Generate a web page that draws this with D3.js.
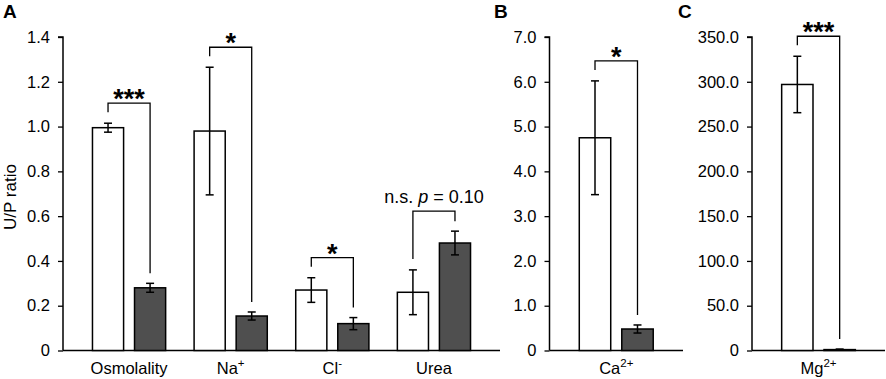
<!DOCTYPE html>
<html>
<head>
<meta charset="utf-8">
<script src="https://cdn.jsdelivr.net/npm/d3@7"></script>
<style>
  body { margin: 0; background: #fff; }
  svg { font-family: "Liberation Sans", Arial, sans-serif; }
</style>
</head>
<body>
<svg id="chart" width="886" height="379"></svg>
<script>
// Panel A: U/P ratios
const labelsA = ["Osmolality", "Na", "Cl", "Urea"];
const supsA = ["", "+", "-", ""];
const ctrlMeanA = [0.995, 0.98, 0.27, 0.26];
const ctrlErrA = [0.02, 0.285, 0.055, 0.1];
const trtMeanA = [0.28, 0.154, 0.12, 0.48];
const trtErrA = [0.02, 0.018, 0.027, 0.053];
const sigA = ["***", "*", "*", "ns"];
const ticksA = [0, 0.2, 0.4, 0.6, 0.8, 1.0, 1.2, 1.4];

// Panel B: Ca2+
const labelsB = ["Ca"];
const supsB = ["2+"];
const ctrlMeanB = [4.75];
const ctrlErrB = [1.27];
const trtMeanB = [0.48];
const trtErrB = [0.09];
const sigB = ["*"];
const ticksB = [0, 1, 2, 3, 4, 5, 6, 7];

// Panel C: Mg2+
const labelsC = ["Mg"];
const supsC = ["2+"];
const ctrlMeanC = [297];
const ctrlErrC = [31.5];
const trtMeanC = [1.0];
const trtErrC = [0.6];
const sigC = ["***"];
const ticksC = [0, 50, 100, 150, 200, 250, 300, 350];

const svg = d3.select("#chart");
const yTop = 37, yBottom = 350.5;

function drawPanel(p) {
    const g = svg.append("g");
    const data = p.labels.map((l, i) => ({
        label: l, sup: p.sups[i],
        vals: [
            { key: "ctrl", mean: p.ctrlMean[i], err: p.ctrlErr[i] },
            { key: "trt", mean: p.trtMean[i], err: p.trtErr[i] }
        ],
        sig: p.sig[i]
    }));

    const x = d3.scaleBand().domain(p.labels).range([p.x0, p.x1])
        .paddingInner(0.28).paddingOuter(0.29);
    const xs = d3.scaleBand().domain(["ctrl", "trt"]).range([0, x.bandwidth()])
        .paddingInner(0.26);
    const y = d3.scaleLinear().domain([0, p.ticks[p.ticks.length - 1]]).range([yBottom, yTop]);

    // y axis
    const ya = g.append("g")
        .attr("transform", `translate(${p.x0},0)`)
        .call(d3.axisLeft(y).tickValues(p.ticks).tickSize(5).tickPadding(8)
            .tickFormat(d => d === 0 ? "0" : d3.format(".1f")(d)));
    ya.select(".domain").attr("stroke-width", 1.5).attr("d", `M-5,${y(p.ticks[p.ticks.length-1])}H0V${yBottom}`);
    ya.selectAll(".tick line").attr("stroke-width", 1.3);
    ya.selectAll(".tick text").attr("font-size", 16.5).attr("font-family", null).attr("fill", "#000");

    // x axis line
    g.append("line").attr("x1", p.x0).attr("x2", p.x1)
        .attr("y1", yBottom).attr("y2", yBottom)
        .attr("stroke", "#000").attr("stroke-width", 1.5);

    const grp = g.selectAll(".grp").data(data).enter().append("g")
        .attr("transform", d => `translate(${x(d.label)},0)`);

    grp.selectAll("rect").data(d => d.vals).enter().append("rect")
        .attr("x", v => xs(v.key))
        .attr("y", v => y(v.mean))
        .attr("width", xs.bandwidth())
        .attr("height", v => yBottom - y(v.mean))
        .attr("fill", v => v.key === "ctrl" ? "#fff" : "#4f4f4f")
        .attr("stroke", "#000").attr("stroke-width", 1.5);

    // error bars
    const eb = grp.selectAll(".eb").data(d => d.vals).enter().append("g")
        .attr("stroke", "#000").attr("stroke-width", 1.5);
    const cx = v => xs(v.key) + xs.bandwidth() / 2;
    eb.append("line").attr("x1", cx).attr("x2", cx)
        .attr("y1", v => y(v.mean + v.err)).attr("y2", v => y(v.mean - v.err));
    eb.append("line").attr("x1", v => cx(v) - 4).attr("x2", v => cx(v) + 4)
        .attr("y1", v => y(v.mean + v.err)).attr("y2", v => y(v.mean + v.err));
    eb.append("line").attr("x1", v => cx(v) - 4).attr("x2", v => cx(v) + 4)
        .attr("y1", v => y(v.mean - v.err)).attr("y2", v => y(v.mean - v.err));

    // significance brackets
    grp.each(function(d) {
        const gg = d3.select(this);
        const hiC = y(d.vals[0].mean + d.vals[0].err);
        const hiT = y(d.vals[1].mean + d.vals[1].err);
        const by = Math.min(hiC, hiT) - 20;
        const xl = cx(d.vals[0]), xr = cx(d.vals[1]);
        gg.append("path")
            .attr("d", `M${xl},${hiC - 11}V${by}H${xr}V${hiT - 10}`)
            .attr("fill", "none").attr("stroke", "#000").attr("stroke-width", 1.3);
        const mid = (xl + xr) / 2;
        if (d.sig === "ns") {
            const t = gg.append("text").attr("x", mid).attr("y", by - 8)
                .attr("text-anchor", "middle").attr("font-size", 18);
            t.append("tspan").text("n.s. ");
            t.append("tspan").attr("font-style", "italic").text("p");
            t.append("tspan").text(" = 0.10");
        } else {
            gg.append("text").attr("x", mid).attr("y", by + 5)
                .attr("text-anchor", "middle").attr("font-size", 27)
                .attr("font-weight", "bold").text(d.sig);
        }
    });

    // category labels
    const lab = grp.append("text")
        .attr("x", x.bandwidth() / 2).attr("y", 374)
        .attr("text-anchor", "middle").attr("font-size", 16.5);
    lab.append("tspan").text(d => d.label);
    lab.append("tspan").attr("dy", -7).attr("font-size", 11.5).text(d => d.sup);

    // panel letter
    svg.append("text").attr("x", p.letterX).attr("y", 18)
        .attr("font-size", 19).attr("font-weight", "bold").text(p.letter);
}

drawPanel({ labels: labelsA, sups: supsA, ctrlMean: ctrlMeanA, ctrlErr: ctrlErrA,
    trtMean: trtMeanA, trtErr: trtErrA, sig: sigA, ticks: ticksA,
    x0: 63, x1: 500, letter: "A", letterX: 3 });
drawPanel({ labels: labelsB, sups: supsB, ctrlMean: ctrlMeanB, ctrlErr: ctrlErrB,
    trtMean: trtMeanB, trtErr: trtErrB, sig: sigB, ticks: ticksB,
    x0: 549.5, x1: 683, letter: "B", letterX: 494 });
drawPanel({ labels: labelsC, sups: supsC, ctrlMean: ctrlMeanC, ctrlErr: ctrlErrC,
    trtMean: trtMeanC, trtErr: trtErrC, sig: sigC, ticks: ticksC,
    x0: 752, x1: 885, letter: "C", letterX: 678 });

// y axis title
svg.append("text")
    .attr("transform", "translate(16,197) rotate(-90)")
    .attr("text-anchor", "middle").attr("font-size", 17).text("U/P ratio");
</script>
</body>
</html>
